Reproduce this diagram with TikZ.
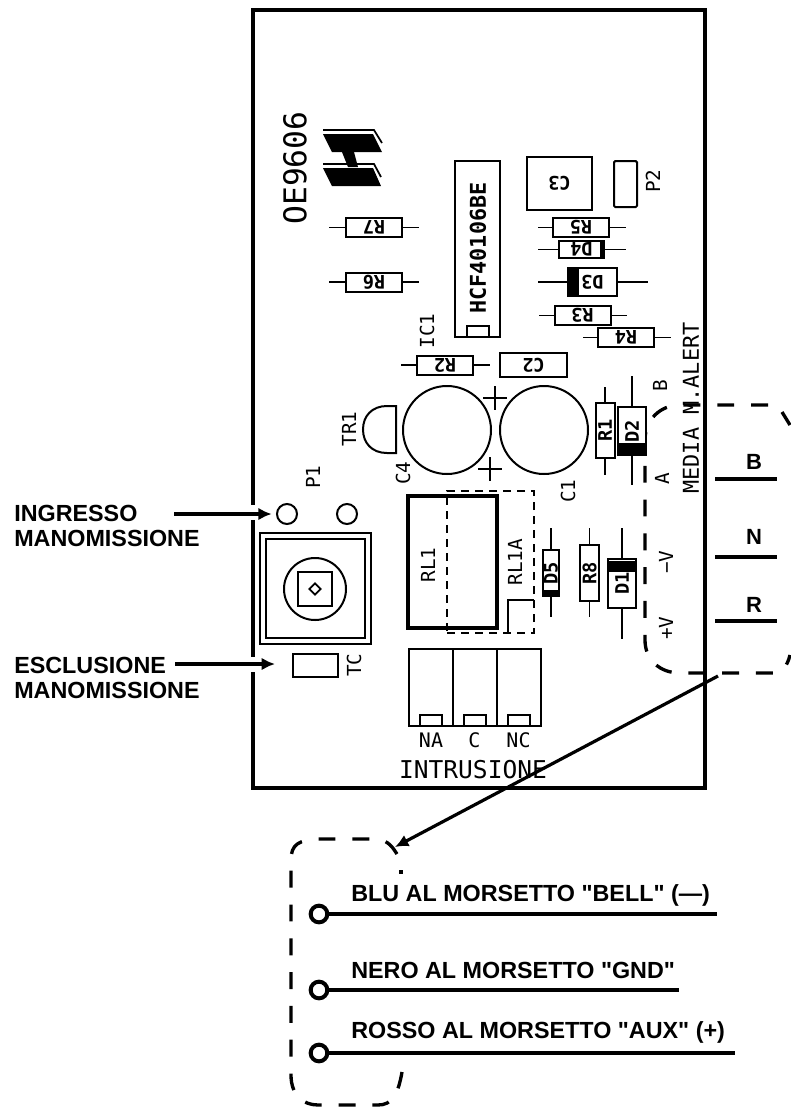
\documentclass[tikz,border=0pt]{standalone}
\usepackage{fontspec}
\usetikzlibrary{positioning}
\usetikzlibrary{arrows.meta}
\usetikzlibrary{shapes.geometric}
\newfontfamily\plainfont{Liberation Sans}
\newfontfamily\pcbfont{DejaVu Sans Mono}

\tikzset{
    silk/.style={font=\pcbfont\fontsize{14.5}{15}\selectfont, inner sep=0},
    silkup/.style={silk, rotate=90},
    body/.style={rectangle, draw=black, line width=1.5pt, fill=white, inner sep=0, outer sep=0, font=\pcbfont\bfseries\fontsize{14}{15}\selectfont},
    resbody/.style={body, minimum width=42pt, minimum height=14.25pt},
    lead/.style={line width=1.3pt},
    outline/.style={line width=3.4pt},
    bigdash/.style={line width=2.5pt, dash pattern=on 12.7pt off 12.65pt},
    callout/.style={line width=2.4pt, -{Latex[length=10pt,width=9.5pt]}},
    bold/.style={font=\plainfont\bfseries\fontsize{17.5}{18}\selectfont, inner sep=0, anchor=west},
    wiretag/.style={font=\plainfont\bfseries\fontsize{16.5}{17}\selectfont, inner sep=0},
    wirebold/.style={line width=2.6pt},
    wire/.style={line width=3.6pt},
    ring/.style={circle, draw=black, line width=3pt, fill=white, minimum size=12.5pt, inner sep=0, outer sep=0},
    hole/.style={circle, draw=black, line width=1.5pt, minimum size=15pt, inner sep=0, outer sep=0},
    notch/.style={rectangle, draw=black, line width=1.5pt, fill=white, minimum width=16.5pt, minimum height=8pt, inner sep=0, outer sep=0},
}

\begin{document}
\begin{tikzpicture}[x=0.75pt, y=-0.75pt]
    \useasboundingbox (0,0) rectangle (790,1108);
    \node[draw=black, outline, inner sep=0, outer sep=0, minimum width=339pt, minimum height=583.5pt] (board) at (479,399) {};
    \fill[white] (249,505) rectangle (258,520);
    \fill[white] (249,657) rectangle (258,672);

    % dashed box of the connector
    \draw[bigdash] (768,405) -- (680,405) .. controls (660,405) and (645,420) .. (645,440) -- (645,640) .. controls (645,660) and (660,673) .. (680,673) -- (775,673) .. controls (782,672) and (787,667) .. (790,655);
    \draw[line width=2.5pt] (782,412) -- (790,425);

    % logo and board code
    \fill (323,134) -- (373,134) -- (382,152) -- (332,152) -- cycle;
    \fill (342,152) -- (354,152) -- (358,167) -- (348,167) -- cycle;
    \fill (323,168) -- (373,168) -- (381,186) -- (332,186) -- cycle;
    \draw[lead] (323,130) -- (374,130) -- (382,143);
    \draw[lead] (323,164) -- (374,164) -- (381,177);
    \node[silkup, font=\pcbfont\fontsize{23.5}{24}\selectfont] (code) at (295,168) {OE9606};

    % IC1 and the parts around it
    \node[body, minimum width=132pt, minimum height=33.75pt, rotate=90] (ic1) at (477.5,249) {};
    \node[silkup, font=\pcbfont\bfseries\fontsize{16.3}{17}\selectfont] (ictype) at (478,248) {HCF40106BE};
    \draw[line width=1.5pt] (467,337) -- (467,326) -- (489,326) -- (489,337);
    \node[silkup] (ic1name) at (427,331) {IC1};
    \node[body, minimum width=48.75pt, minimum height=39.75pt, rotate=180] (c3) at (559.5,183.5) {C3};
    \node[body, rounded corners=1pt, minimum width=34.5pt, minimum height=17.25pt, rotate=90] (p2) at (625.5,184) {};
    \node[silkup] (p2name) at (653,181) {P2};
    \node[body, minimum width=50.25pt, minimum height=18pt, rotate=180] (c2) at (533.5,365) {C2};

    % horizontal resistors
    \node[resbody, rotate=180] (r7) at (374,227.5) {R7};
    \draw[lead] (r7.east) -- ++(-17,0);
    \draw[lead] (r7.west) -- ++(17,0);
    \node[resbody, rotate=180] (r6) at (374,282) {R6};
    \draw[lead] (r6.east) -- ++(-17,0);
    \draw[lead] (r6.west) -- ++(17,0);
    \node[resbody, rotate=180] (r5) at (581,227.5) {R5};
    \draw[lead] (r5.east) -- ++(-15,0);
    \draw[lead] (r5.west) -- ++(17,0);
    \node[resbody, rotate=180] (r3) at (582.5,315.5) {R3};
    \draw[lead] (r3.east) -- ++(-16,0);
    \draw[lead] (r3.west) -- ++(16,0);
    \node[resbody, rotate=180] (r4) at (626,337.5) {R4};
    \draw[lead] (r4.east) -- ++(-15,0);
    \draw[lead] (r4.west) -- ++(17,0);
    \node[resbody, rotate=180] (r2) at (445,365) {R2};
    \draw[lead] (r2.east) -- ++(-16,0);
    \draw[lead] (r2.west) -- ++(17,0);

    % horizontal diodes
    \node[body, minimum width=34pt, minimum height=12.75pt, rotate=180] (d4) at (581.5,249.5) {D4};
    \draw[lead] (d4.east) -- ++(-21,0);
    \draw[lead] (d4.west) -- ++(22,0);
    \fill (600,241) rectangle (604,258);
    \node[body, minimum width=36.75pt, minimum height=21pt, rotate=180] (d3) at (592.5,282) {D3};
    \draw[lead] (d3.east) -- ++(-30,0);
    \draw[lead] (d3.west) -- ++(31,0);
    \fill (568,268) rectangle (579,296);

    % capacitors, transistor
    \node[circle, draw=black, line width=1.5pt, minimum size=66pt, inner sep=0] (c4) at (447,430) {};
    \node[circle, draw=black, line width=1.5pt, minimum size=66pt, inner sep=0] (c1) at (544,430) {};
    \draw[lead] (483,398) -- (507,398) (495,386) -- (495,410);
    \draw[lead] (478,469) -- (502,469) (490,457) -- (490,481);
    \node[silkup] (c4name) at (403,473) {C4};
    \node[silkup] (c1name) at (568,491) {C1};
    \draw[line width=1.5pt] (396,406) -- (396,453) -- (387,453) .. controls (372,453) and (363,443) .. (363,429.5) .. controls (363,416) and (372,406) .. (387,406) -- cycle;
    \node[silkup] (tr1name) at (349,429) {TR1};

    % vertical parts right of the capacitors
    \node[resbody, minimum width=41.25pt, rotate=90] (r1) at (605,430.5) {R1};
    \draw[lead] (r1.east) -- ++(0,-16);
    \draw[lead] (r1.west) -- ++(0,17);
    \node[body, minimum width=36pt, minimum height=21pt, rotate=90] (d2) at (632,431) {D2};
    \draw[lead] (d2.east) -- ++(0,-31);
    \draw[lead] (d2.west) -- ++(0,30);
    \fill (618,443) rectangle (646,455);
    \node[body, minimum width=34.5pt, minimum height=12pt, rotate=90] (d5) at (551,573) {D5};
    \draw[lead] (d5.east) -- ++(0,-22);
    \draw[lead] (d5.west) -- ++(0,21);
    \fill (543,590) rectangle (559,596);
    \node[resbody, rotate=90] (r8) at (589.5,573) {R8};
    \draw[lead] (r8.east) -- ++(0,-17);
    \draw[lead] (r8.west) -- ++(0,16);
    \node[body, minimum width=36.75pt, minimum height=21pt, rotate=90] (d1) at (622,583.5) {D1};
    \draw[lead] (d1.east) -- ++(0,-31);
    \draw[lead] (d1.west) -- ++(0,31);
    \fill (608,561) rectangle (636,572);

    % relay
    \node[draw=black, line width=2.4pt, inner sep=0, outer sep=0, minimum width=66.75pt, minimum height=99pt] (rl1) at (452.5,562) {};
    \node[silkup] (rl1name) at (428,565) {RL1};
    \node[draw=black, line width=1.5pt, dash pattern=on 6pt off 4.5pt, inner sep=0, outer sep=0, minimum width=65.25pt, minimum height=106.5pt] (rl1a) at (490.5,562) {};
    \node[silkup] (rl1aname) at (515,562) {RL1A};
    \draw[line width=1.5pt] (534,600) -- (508,600) -- (508,633);

    % trimmer and holes
    \node[hole] (p1a) at (287,514) {};
    \node[hole, right=30pt of p1a] (p1b) {};
    \node[silkup] (p1name) at (313,477) {P1};
    \node[draw=black, line width=1.1pt, inner sep=0, outer sep=0, minimum width=83.25pt, minimum height=83.25pt] (trimout) at (315.5,588.5) {};
    \node[draw=black, line width=2pt, inner sep=0, outer sep=0, minimum width=74.25pt, minimum height=74.25pt] (trimin) at (315.5,588.5) {};
    \node[circle, draw=black, line width=1.5pt, minimum size=46.5pt, inner sep=0] (trimring) at (315,589) {};
    \node[draw=black, line width=2pt, inner sep=0, minimum size=25.5pt] (trimsq) at (315,589) {};
    \node[diamond, draw=black, line width=1.3pt, inner sep=0, minimum size=9pt] (trimslot) at (315,589) {};
    \node[body, minimum width=33.75pt, minimum height=17.25pt] (tc) at (315.5,665.5) {};
    \node[silkup] (tcname) at (354,665) {TC};

    % terminal block
    \node[draw=black, line width=1.5pt, inner sep=0, outer sep=0, minimum width=99pt, minimum height=57.75pt] (block) at (475,687.5) {};
    \draw[line width=1.9pt] (453,649) -- (453,726);
    \draw[line width=1.9pt] (497,649) -- (497,726);
    \node[notch] (notcha) at (431,720.5) {};
    \node[notch] (notchb) at (474.5,720.5) {};
    \node[notch] (notchc) at (518.5,720.5) {};
    \node[silk, below=5pt of notcha, font=\pcbfont\fontsize{15}{16}\selectfont] (na) {NA};
    \node[silk, below=5pt of notchb, font=\pcbfont\fontsize{15}{16}\selectfont] (c) {C};
    \node[silk, below=5pt of notchc, font=\pcbfont\fontsize{15}{16}\selectfont] (nc) {NC};
    \node[silk, font=\pcbfont\fontsize{18.4}{19}\selectfont] (intrusione) at (473,770) {INTRUSIONE};

    % connector side
    \node[silkup] (bname) at (660,386) {B};
    \node[silkup] (aname) at (662,479) {A};
    \node[silkup] (vminus) at (666,562) {−V};
    \node[silkup] (vplus) at (666,628) {+V};
    \node[silkup, font=\pcbfont\fontsize{16.4}{17}\selectfont] (media) at (691,408) {MEDIA M.ALERT};
    \coordinate (bleft) at (715,479);
    \coordinate (bright) at (777,479);
    \coordinate (nleft) at (715,557);
    \coordinate (nright) at (777,557);
    \coordinate (rleft) at (715,621);
    \coordinate (rright) at (777,621);
    \draw[wirebold] (bleft) -- (bright);
    \draw[wirebold] (nleft) -- (nright);
    \draw[wirebold] (rleft) -- (rright);
    \node[wiretag] (bwire) at (754,462) {B};
    \node[wiretag] (nwire) at (754,537) {N};
    \node[wiretag] (rwire) at (754,605) {R};

    % left callouts
    \node[bold] (ingresso) at (14,513) {INGRESSO};
    \node[bold, below=6.5pt of ingresso.south west, anchor=north west] (manoa) {MANOMISSIONE};
    \node[bold] (esclusione) at (14,665) {ESCLUSIONE};
    \node[bold, below=6.5pt of esclusione.south west, anchor=north west] (manob) {MANOMISSIONE};
    \coordinate (inarrow) at (174,514);
    \coordinate (esarrow) at (175,664);
    \coordinate (tcarrow) at (275,664);
    \draw[callout, shorten >=4pt] (inarrow) -- (p1a.west);
    \draw[callout] (esarrow) -- (tcarrow);

    % lower box
    \coordinate (boxexit) at (718,676);
    \coordinate (boxentry) at (395,847);
    \draw[callout] (boxexit) -- (boxentry);
    \draw[bigdash] (397,854) .. controls (393,848) and (389,841) .. (378,839) -- (322,839) .. controls (298,839) and (291,845) .. (291,860) -- (291,1075) .. controls (291,1095) and (303,1105) .. (318,1105) -- (378,1105) .. controls (392,1105) and (398,1095) .. (402,1072);
    \fill (399,870) rectangle (403,874);
    \node[ring] (blu) at (319,914) {};
    \node[ring] (nero) at (319,990) {};
    \node[ring] (rosso) at (319,1053) {};
    \coordinate (bluend) at (717,914);
    \coordinate (neroend) at (679,990);
    \coordinate (rossoend) at (735,1053);
    \draw[wire] (blu) -- (bluend);
    \draw[wire] (nero) -- (neroend);
    \draw[wire] (rosso) -- (rossoend);
    \node[bold] (blulabel) at (351,895) {BLU AL MORSETTO "BELL" (—)};
    \node[bold] (nerolabel) at (351,970) {NERO AL MORSETTO "GND"};
    \node[bold] (rossolabel) at (351,1032) {ROSSO AL MORSETTO "AUX" (+)};
\end{tikzpicture}
\end{document}
